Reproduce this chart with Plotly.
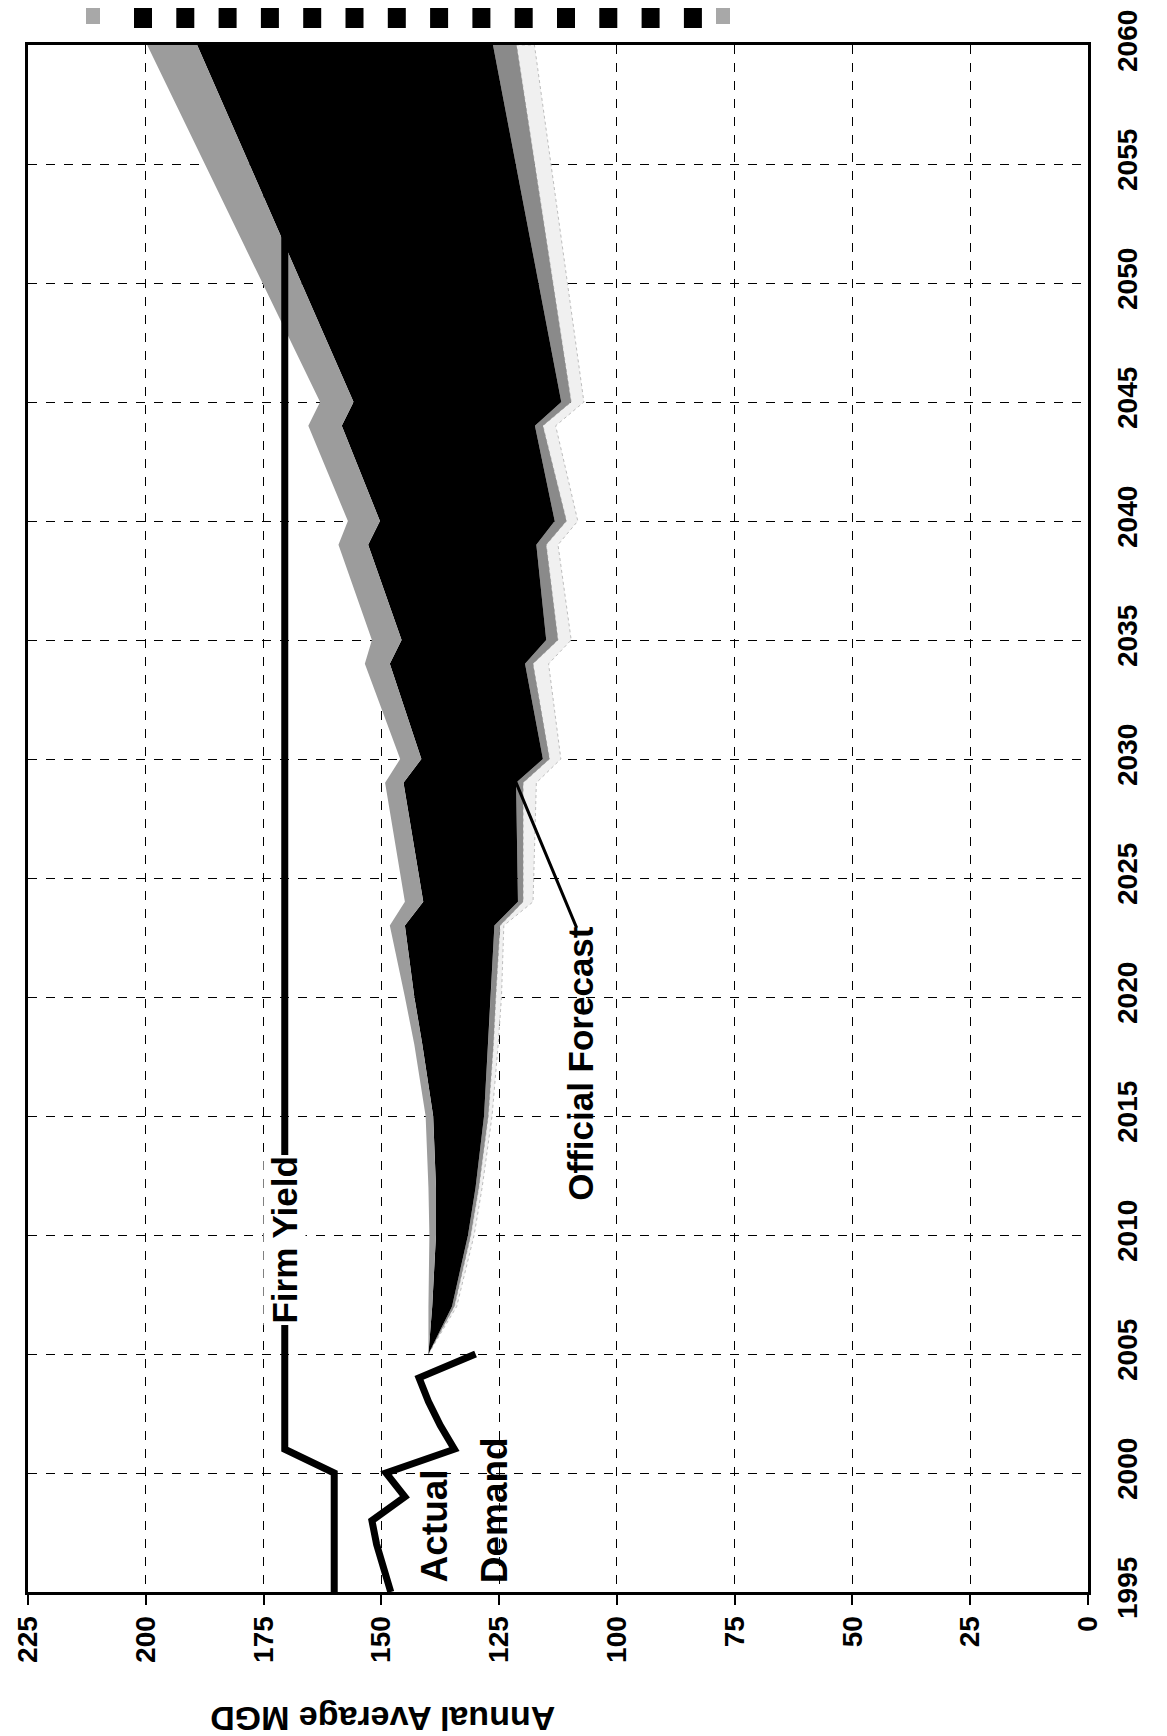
import plotly.graph_objects as go

# ---------------- data ----------------
hist_years = [1995, 1996, 1997, 1998, 1999, 2000, 2001, 2002, 2003, 2004, 2005]
actual_demand = [148, 149.5, 151, 152, 145, 149, 134.5, 137.5, 140, 142, 130]

firm_years = [1995, 2000, 2001, 2060]
firm_yield = [160, 160, 170.5, 170.5]

fc_years = [2005, 2007, 2010, 2012, 2015, 2018, 2020, 2023, 2024, 2029, 2030,
            2034, 2035, 2039, 2040, 2044, 2045, 2060]
high_outer = [140, 140, 139.8, 140, 140.6, 143, 145, 148.2, 145, 149.2, 146,
              153.5, 152, 159.1, 157.1, 165.5, 163, 199.7]
high_inner = [140, 139.2, 138.4, 138.4, 139, 141.3, 143, 145, 141.1, 145.3, 141.5,
              148.2, 145.7, 152.8, 150.3, 158.4, 155.9, 189.1]
low_inner = [140, 135, 131.6, 130, 128.2, 127.3, 126.8, 126, 121, 121.4, 115.7,
             119.5, 115, 117.1, 113.2, 117.4, 111.8, 126.3]
low_mid = [140, 134.5, 131, 129.3, 127.3, 126.2, 125.7, 124.8, 119.9, 119.9, 114.3,
           117.8, 112.5, 115, 110.7, 115.7, 109.7, 121.3]
low_outer = [140, 134, 130.3, 128.6, 126.5, 125.2, 124.5, 124, 117.8, 117.1, 111.9,
             114.5, 109.7, 112.5, 108.3, 113, 107, 117.5]

mgd_ticks = [0, 25, 50, 75, 100, 125, 150, 175, 200, 225]
year_ticks = list(range(1995, 2061, 5))

FONT = "Liberation Sans, Arial, Helvetica, sans-serif"

fig = go.Figure()

def band(x_a, x_b, color, line=None):
    xs = list(x_a) + list(x_b)[::-1]
    ys = list(fc_years) + list(fc_years)[::-1]
    fig.add_trace(go.Scatter(x=xs, y=ys, mode="lines", fill="toself",
                             fillcolor=color,
                             line=line or dict(width=0, color=color),
                             hoverinfo="skip", showlegend=False))

band(low_mid, low_outer, "#f0f0f0", dict(width=1, color="#bdbdbd", dash="dot"))
band(low_inner, low_mid, "#8a8a8a")
band(high_inner, low_inner, "#000000")
band(high_outer, high_inner, "#9c9c9c")

fig.add_trace(go.Scatter(x=firm_yield, y=firm_years, mode="lines",
                         line=dict(color="black", width=7), showlegend=False))
fig.add_trace(go.Scatter(x=actual_demand, y=hist_years, mode="lines",
                         line=dict(color="black", width=7), showlegend=False))

lbl_font = dict(family=FONT, size=35, color="black", weight="bold")
lbl_font2 = dict(family=FONT, size=37, color="black", weight="bold")

annotations = [
    dict(x=170.5, y=2009.8, xref="x", yref="y", text="<b>Firm Yield</b>",
         textangle=-90, showarrow=False, bgcolor="white", font=lbl_font,
         xanchor="center", yanchor="middle"),
    dict(x=138.8, y=1995.3, xref="x", yref="y", text="<b>Actual</b>",
         textangle=-90, showarrow=False, font=lbl_font2,
         xanchor="center", yanchor="bottom"),
    dict(x=126.0, y=1995.3, xref="x", yref="y", text="<b>Demand</b>",
         textangle=-90, showarrow=False, font=lbl_font2,
         xanchor="center", yanchor="bottom"),
    dict(x=107.8, y=2017.2, xref="x", yref="y", text="<b>Official Forecast</b>",
         textangle=-90, showarrow=False, font=lbl_font,
         xanchor="center", yanchor="middle"),
    dict(x=121.6, y=2029.1, xref="x", yref="y", ax=107.9, ay=2022.6,
         axref="x", ayref="y", text=" ", showarrow=True, arrowhead=0,
         arrowwidth=3, arrowcolor="black"),
    dict(x=0.335, y=-0.082, xref="paper", yref="paper",
         text="<b>Annual Average MGD</b>", textangle=180, showarrow=False,
         font=dict(family=FONT, size=34, color="black", weight="bold"),
         xanchor="center", yanchor="middle"),
]

# cut-off legend row at the very top
ML, MR, MT, MB = 20, 87, 37, 152
plot_l, plot_w = ML, 1167 - ML - MR
plot_t, plot_h = MT, 1736 - MT - MB
def px_x(p):
    return (p - plot_l) / plot_w
def px_y(p):
    return 1 + (plot_t - p) / plot_h
shapes = []
sq_left = [78] + [126 + 42.3 * i for i in range(14)] + [708]
for i, xl in enumerate(sq_left):
    gray = i == 0 or i == len(sq_left) - 1
    shapes.append(dict(type="rect", xref="paper", yref="paper",
                       x0=px_x(xl), x1=px_x(xl + (14 if gray else 18)),
                       y0=px_y(0), y1=px_y(20 if not gray else 16),
                       fillcolor="#a8a8a8" if gray else "black",
                       line=dict(width=0)))

tick_font = dict(family=FONT, size=28, color="black", weight="bold")

fig.update_layout(
    width=1167, height=1736,
    margin=dict(l=ML, r=MR, t=MT, b=MB, autoexpand=False),
    paper_bgcolor="white", plot_bgcolor="white",
    font=dict(family=FONT, color="black"),
    showlegend=False,
    annotations=annotations,
    shapes=shapes,
    xaxis=dict(range=[225, 0], tickvals=mgd_ticks, ticktext=[str(v) for v in mgd_ticks],
               tickangle=-90, tickfont=tick_font, automargin=False,
               ticklabeloverflow="allow",
               showgrid=True, gridcolor="black", gridwidth=1, griddash="dash",
               showline=True, linecolor="black", linewidth=3, mirror=True,
               ticks="outside", ticklen=10, tickwidth=1.5, tickcolor="black",
               zeroline=False),
    yaxis=dict(range=[1995, 2060], tickvals=year_ticks, side="right",
               tickangle=-90, tickfont=tick_font, automargin=False,
               ticklabeloverflow="allow",
               showgrid=True, gridcolor="black", gridwidth=1, griddash="dash",
               showline=True, linecolor="black", linewidth=3, mirror=True,
               ticks="", ticklabelstandoff=12,
               zeroline=False),
)

fig.write_html("out.html")
